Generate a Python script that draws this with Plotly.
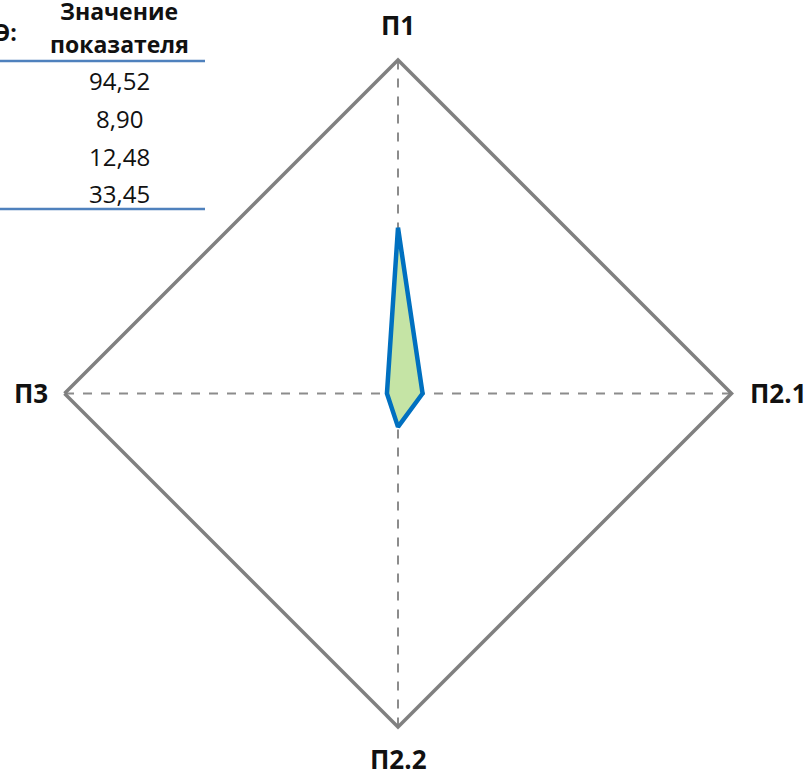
import plotly.graph_objects as go

categories = ["П1", "П2.1", "П2.2", "П3"]
values = [94.52, 14.0, 19.0, 6.3]
radial_max = 190

table_header = ["Значение", "показателя"]
table_values = ["94,52", "8,90", "12,48", "33,45"]

W, H = 810, 776

fig = go.Figure()
fig.add_trace(go.Scatterpolar(
    r=values + [values[0]],
    theta=categories + [categories[0]],
    mode="lines",
    fill="toself",
    fillcolor="#C5E4A5",
    line=dict(color="#0070C0", width=4.5),
    showlegend=False,
    hoverinfo="skip",
))

fig.update_layout(
    width=W, height=H,
    margin=dict(l=0, r=0, t=0, b=0),
    paper_bgcolor="white",
    plot_bgcolor="white",
    polar=dict(
        domain=dict(x=[62 / W, 734 / W], y=[1 - 727 / H, 1 - 60 / H]),
        bgcolor="white",
        gridshape="linear",
        radialaxis=dict(range=[0, radial_max], showgrid=False, showline=False,
                        showticklabels=False, ticks=""),
        angularaxis=dict(rotation=90, direction="clockwise",
                         showline=True, linecolor="#808080", linewidth=3.5,
                         showgrid=True, gridcolor="#8C8C8C", gridwidth=2,
                         griddash="dash", showticklabels=False, ticks=""),
    ),
)

FAM = "Open Sans, Liberation Sans, sans-serif"
label_font = dict(family=FAM, size=26, color="#111111")
label_pos = {"П1": (398, 25, "center"), "П2.1": (748, 393, "left"),
             "П2.2": (398, 759, "center"), "П3": (50, 393, "right")}
for c in categories:
    x, y, anchor = label_pos[c]
    fig.add_annotation(x=x / W, y=1 - y / H, xref="paper", yref="paper",
                       text="<b>%s</b>" % c, showarrow=False, font=label_font,
                       xanchor=anchor, yanchor="middle")

tfont = dict(family=FAM, size=24, color="#111111")
hfont = dict(family=FAM, size=23, color="#111111")
fig.add_annotation(x=119 / W, y=1 - 11 / H, xref="paper", yref="paper",
                   text="<b>%s</b>" % table_header[0], showarrow=False, font=hfont,
                   xanchor="center", yanchor="middle")
fig.add_annotation(x=119 / W, y=1 - 44 / H, xref="paper", yref="paper",
                   text="<b>%s</b>" % table_header[1], showarrow=False, font=hfont,
                   xanchor="center", yanchor="middle")
fig.add_annotation(x=19 / W, y=1 - 32 / H, xref="paper", yref="paper",
                   text="<b>Э:</b>", showarrow=False, font=hfont,
                   xanchor="right", yanchor="middle")
row_y = [81, 118, 157, 193]
for v, y in zip(table_values, row_y):
    fig.add_annotation(x=119 / W, y=1 - y / H, xref="paper", yref="paper",
                       text=v, showarrow=False, font=tfont,
                       xanchor="center", yanchor="middle")
for y in (61, 209):
    fig.add_shape(type="line", xref="paper", yref="paper",
                  x0=0, x1=205 / W, y0=1 - y / H, y1=1 - y / H,
                  line=dict(color="#4F81BD", width=2.5))

fig.write_html("out.html", config={"displayModeBar": False},
               post_script="document.body.style.margin='0';document.body.style.overflow='hidden';")
